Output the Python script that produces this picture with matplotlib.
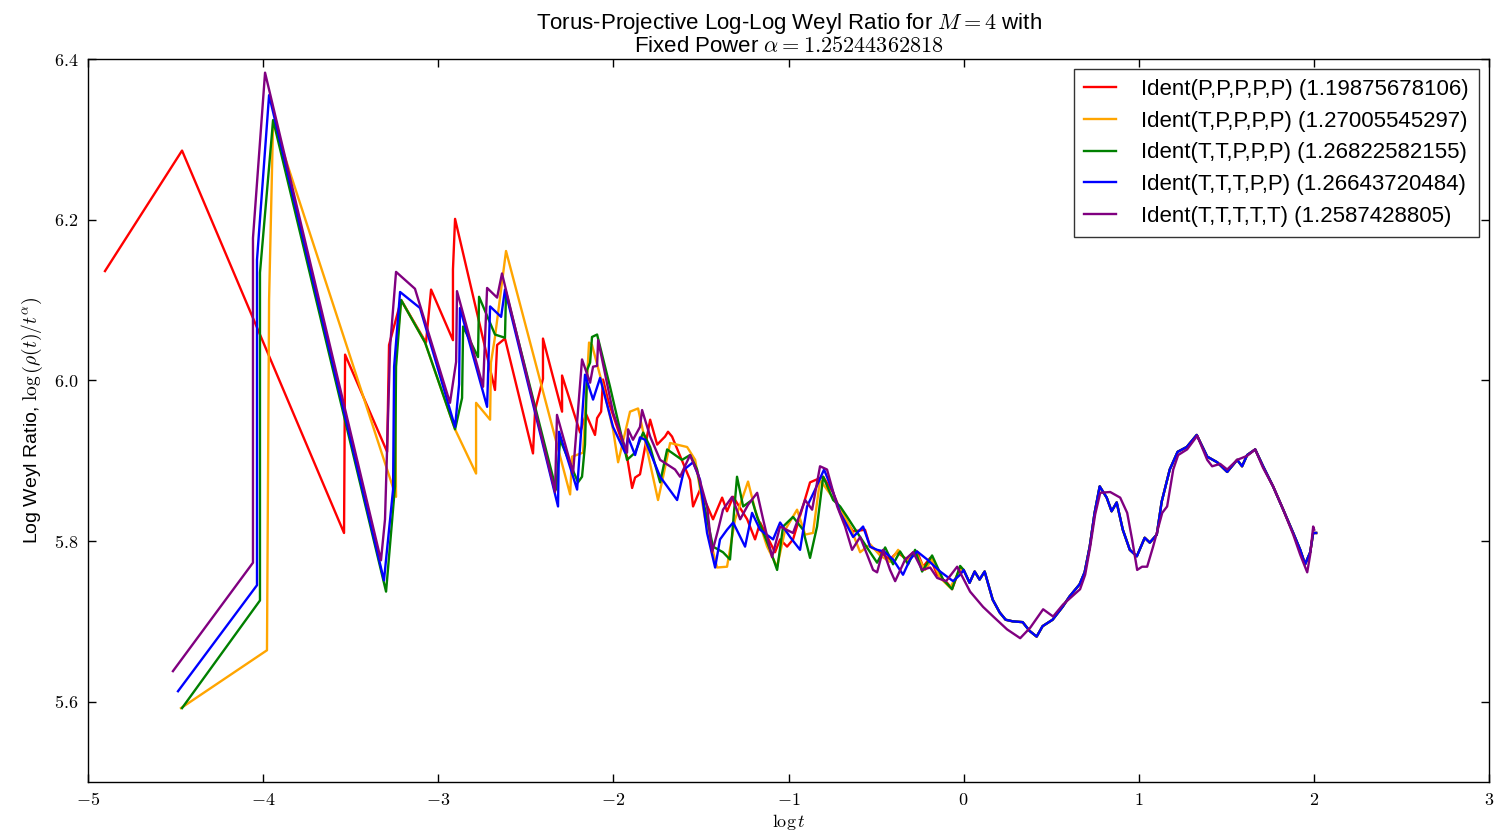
import matplotlib
matplotlib.use("Agg")
import matplotlib.pyplot as plt
from matplotlib.ticker import FuncFormatter, MultipleLocator

plt.rcParams['font.family'] = ['Liberation Sans', 'DejaVu Sans']
plt.rcParams['mathtext.fontset'] = 'cm'

# ---------------- data ----------------
labels = ["Ident(P,P,P,P,P) (1.19875678106)",
          "Ident(T,P,P,P,P) (1.27005545297)",
          "Ident(T,T,P,P,P) (1.26822582155)",
          "Ident(T,T,T,P,P) (1.26643720484)",
          "Ident(T,T,T,T,T) (1.2587428805)"]
colors = ["red", "orange", "green", "blue", "purple"]

# shared converged tail (x >= 0) of the first four series
tail_x = [0.000, 0.034, 0.063, 0.091, 0.120, 0.166, 0.206, 0.240, 0.280, 0.337,
          0.377, 0.417, 0.451, 0.508, 0.565, 0.605, 0.662, 0.691, 0.720, 0.748,
          0.777, 0.817, 0.845, 0.874, 0.909, 0.949, 0.989, 1.034, 1.063, 1.103,
          1.131, 1.177, 1.222, 1.274, 1.331, 1.391, 1.448, 1.505, 1.562, 1.590,
          1.619, 1.665, 1.710, 1.767, 1.825, 1.882, 1.922, 1.950, 1.979, 1.996, 2.013]
tail_y = [5.764, 5.748, 5.762, 5.752, 5.762, 5.727, 5.711, 5.702, 5.700, 5.699,
          5.688, 5.681, 5.694, 5.702, 5.718, 5.731, 5.746, 5.761, 5.793, 5.835,
          5.868, 5.854, 5.837, 5.848, 5.814, 5.789, 5.781, 5.804, 5.798, 5.808,
          5.849, 5.889, 5.911, 5.917, 5.932, 5.905, 5.898, 5.886, 5.901, 5.893,
          5.907, 5.914, 5.893, 5.868, 5.839, 5.810, 5.789, 5.771, 5.786, 5.810, 5.810]

red_x = [-4.903, -4.463, -3.538, -3.532, -3.292, -3.281, -3.212, -3.070, -3.041, -2.916, -2.916,
         -2.904, -2.676, -2.664, -2.619, -2.459, -2.447, -2.402, -2.402, -2.293, -2.293,
         -2.190, -2.156, -2.105, -2.093, -2.070, -2.059, -2.030, -1.922, -1.893, -1.876,
         -1.848, -1.790, -1.750, -1.705, -1.688, -1.665, -1.562, -1.545, -1.505, -1.431,
         -1.379, -1.351, -1.316, -1.236, -1.191, -1.162, -1.077, -1.048, -1.008, -0.974,
         -0.877, -0.802, -0.745, -0.688, -0.631, -0.563, -0.534, -0.477, -0.420, -0.380,
         -0.323, -0.288, -0.266, -0.231, -0.191, -0.151, -0.094, -0.066, -0.020]
red_y = [6.136, 6.286, 5.810, 6.032, 5.911, 6.044, 6.100, 6.047, 6.113, 6.050, 6.138,
         6.201, 5.988, 6.044, 6.052, 5.909, 5.963, 6.002, 6.052, 5.961, 6.006,
         5.935, 5.958, 5.932, 5.953, 5.961, 6.001, 5.975, 5.905, 5.866, 5.879,
         5.883, 5.951, 5.920, 5.930, 5.936, 5.930, 5.876, 5.843, 5.864, 5.827,
         5.854, 5.837, 5.855, 5.827, 5.802, 5.823, 5.786, 5.802, 5.793, 5.802,
         5.873, 5.880, 5.860, 5.830, 5.812, 5.814, 5.793, 5.786, 5.777, 5.786,
         5.777, 5.786, 5.787, 5.768, 5.779, 5.758, 5.748, 5.740, 5.767]

orange_x = [-4.469, -3.978, -3.966, -3.943, -3.241, -3.247, -3.212, -3.075, -2.904, -2.784,
            -2.784, -2.704, -2.699, -2.676, -2.613, -2.247, -2.236, -2.173, -2.139, -2.122,
            -2.059, -2.002, -1.973, -1.905, -1.859, -1.745, -1.716, -1.676, -1.579, -1.533,
            -1.476, -1.408, -1.351, -1.305, -1.231, -1.191, -1.122, -1.065, -1.019, -0.951,
            -0.905, -0.860, -0.820, -0.780, -0.717, -0.648, -0.591, -0.534, -0.477, -0.420,
            -0.374, -0.323, -0.277, -0.220, -0.180, -0.134, -0.077, -0.020]
orange_y = [5.592, 5.664, 6.100, 6.323, 5.855, 6.017, 6.100, 6.047, 5.939, 5.884,
            5.972, 5.951, 6.022, 6.054, 6.161, 5.858, 5.905, 5.910, 6.047, 6.044,
            5.992, 5.939, 5.898, 5.961, 5.965, 5.851, 5.880, 5.922, 5.917, 5.901,
            5.827, 5.767, 5.768, 5.827, 5.874, 5.839, 5.793, 5.768, 5.814, 5.839,
            5.808, 5.810, 5.876, 5.864, 5.845, 5.818, 5.786, 5.796, 5.782, 5.774,
            5.789, 5.774, 5.787, 5.764, 5.777, 5.754, 5.742, 5.764]

green_x = [-4.463, -4.018, -4.018, -3.943, -3.298, -3.247, -3.241, -3.212, -3.075, -2.904,
           -2.864, -2.858, -2.773, -2.767, -2.676, -2.619, -2.613, -2.327, -2.304, -2.202,
           -2.179, -2.162, -2.150, -2.133, -2.122, -2.093, -2.019, -1.922, -1.876, -1.830,
           -1.790, -1.733, -1.693, -1.608, -1.562, -1.522, -1.488, -1.431, -1.374, -1.334,
           -1.294, -1.259, -1.208, -1.179, -1.105, -1.065, -1.031, -0.974, -0.917, -0.877,
           -0.837, -0.802, -0.745, -0.705, -0.665, -0.591, -0.534, -0.494, -0.448, -0.403,
           -0.363, -0.317, -0.277, -0.237, -0.180, -0.117, -0.066, -0.020]
green_y = [5.592, 5.726, 6.134, 6.324, 5.737, 5.868, 6.017, 6.100, 6.047, 5.939,
           5.978, 6.067, 6.029, 6.104, 6.057, 6.053, 6.110, 5.864, 5.926, 5.873,
           5.880, 5.920, 6.013, 6.022, 6.054, 6.057, 5.992, 5.901, 5.910, 5.935,
           5.917, 5.873, 5.914, 5.901, 5.907, 5.889, 5.851, 5.793, 5.786, 5.777,
           5.880, 5.843, 5.851, 5.830, 5.789, 5.764, 5.818, 5.830, 5.814, 5.779,
           5.818, 5.880, 5.851, 5.843, 5.830, 5.805, 5.786, 5.773, 5.792, 5.771,
           5.787, 5.771, 5.789, 5.762, 5.782, 5.752, 5.740, 5.769]

blue_x = [-4.486, -4.035, -4.035, -3.966, -3.310, -3.258, -3.252, -3.218, -3.104, -2.904,
          -2.881, -2.876, -2.721, -2.704, -2.641, -2.619, -2.316, -2.310, -2.207, -2.162,
          -2.116, -2.076, -2.002, -1.933, -1.916, -1.876, -1.848, -1.819, -1.733, -1.636,
          -1.596, -1.545, -1.505, -1.465, -1.419, -1.391, -1.351, -1.316, -1.248, -1.208,
          -1.162, -1.088, -1.048, -0.991, -0.934, -0.894, -0.848, -0.797, -0.751, -0.705,
          -0.631, -0.574, -0.534, -0.494, -0.454, -0.403, -0.346, -0.306, -0.266, -0.208,
          -0.134, -0.060, -0.020]
blue_y = [5.613, 5.745, 6.150, 6.355, 5.751, 5.864, 6.017, 6.110, 6.090, 5.942,
          5.995, 6.090, 5.967, 6.092, 6.079, 6.113, 5.843, 5.936, 5.864, 6.007,
          5.976, 6.003, 5.942, 5.910, 5.929, 5.907, 5.929, 5.926, 5.880, 5.851,
          5.889, 5.898, 5.876, 5.810, 5.767, 5.802, 5.814, 5.823, 5.793, 5.835,
          5.814, 5.802, 5.823, 5.805, 5.789, 5.843, 5.864, 5.889, 5.864, 5.835,
          5.805, 5.818, 5.793, 5.789, 5.787, 5.777, 5.758, 5.777, 5.787, 5.777,
          5.762, 5.750, 5.758]

purple_x = [-4.515, -4.058, -4.058, -3.989, -3.327, -3.304, -3.275, -3.241, -3.133, -2.933,
            -2.898, -2.893, -2.744, -2.721, -2.664, -2.636, -2.333, -2.322, -2.230, -2.179,
            -2.133, -2.116, -2.093, -2.087, -2.002, -1.922, -1.916, -1.888, -1.848, -1.836,
            -1.790, -1.733, -1.648, -1.619, -1.562, -1.516, -1.465, -1.436, -1.402, -1.374,
            -1.322, -1.276, -1.231, -1.179, -1.145, -1.094, -1.048, -0.974, -0.905, -0.865,
            -0.820, -0.780, -0.722, -0.677, -0.637, -0.591, -0.551, -0.517, -0.494, -0.460,
            -0.420, -0.391, -0.334, -0.288, -0.237, -0.191, -0.151, -0.100, -0.037,
            0.037, 0.111, 0.169, 0.248, 0.323, 0.380, 0.454, 0.511, 0.568, 0.665,
            0.694, 0.722, 0.751, 0.780, 0.837, 0.894, 0.934, 0.962, 0.991, 1.019,
            1.048, 1.082, 1.134, 1.162, 1.197, 1.225, 1.276, 1.334, 1.391, 1.419,
            1.465, 1.505, 1.562, 1.619, 1.665, 1.710, 1.767, 1.825, 1.882, 1.922,
            1.962, 1.979, 1.996, 2.002]
purple_y = [5.638, 5.773, 6.177, 6.383, 5.776, 5.827, 6.042, 6.135, 6.114, 5.972,
            6.023, 6.111, 5.992, 6.115, 6.103, 6.133, 5.861, 5.957, 5.885, 6.026,
            5.997, 6.017, 6.018, 6.050, 5.960, 5.910, 5.939, 5.926, 5.942, 5.963,
            5.930, 5.901, 5.889, 5.880, 5.907, 5.883, 5.843, 5.786, 5.814, 5.839,
            5.855, 5.827, 5.845, 5.860, 5.827, 5.780, 5.818, 5.810, 5.851, 5.839,
            5.893, 5.889, 5.843, 5.818, 5.789, 5.805, 5.783, 5.764, 5.761, 5.789,
            5.764, 5.750, 5.777, 5.786, 5.764, 5.767, 5.754, 5.750, 5.768,
            5.737, 5.718, 5.706, 5.690, 5.679, 5.692, 5.715, 5.706, 5.721, 5.740,
            5.758, 5.792, 5.833, 5.860, 5.861, 5.854, 5.835, 5.802, 5.764, 5.768,
            5.768, 5.793, 5.835, 5.843, 5.889, 5.907, 5.914, 5.931, 5.901, 5.893,
            5.896, 5.889, 5.901, 5.906, 5.914, 5.891, 5.868, 5.839, 5.808, 5.783,
            5.761, 5.783, 5.818, 5.814]

series = [(red_x + tail_x, red_y + tail_y),
          (orange_x + tail_x, orange_y + tail_y),
          (green_x + tail_x, green_y + tail_y),
          (blue_x + tail_x, blue_y + tail_y),
          (purple_x, purple_y)]

# ---------------- figure ----------------
fig = plt.figure(figsize=(14.97, 8.31), dpi=100)
ax = fig.add_axes([88 / 1497, 1 - 782 / 831, (1489 - 88) / 1497, (782 - 59) / 831])

for (xs, ys), c, lab in zip(series, colors, labels):
    ax.plot(xs, ys, color=c, lw=1.7, label=lab)

ax.set_xlim(-5, 3)
ax.set_ylim(5.5, 6.4)
ax.xaxis.set_major_locator(MultipleLocator(1))
ax.yaxis.set_major_locator(MultipleLocator(0.2))
ax.xaxis.set_major_formatter(FuncFormatter(lambda v, p: r'$%d$' % round(v)))
ax.yaxis.set_major_formatter(FuncFormatter(lambda v, p: r'$%.1f$' % v))
ax.tick_params(direction='in', top=True, right=True, length=6, width=1,
               labelsize=13, pad=7)
for s in ax.spines.values():
    s.set_linewidth(1.0)

ax.set_xlabel(r'$\log t$', fontsize=13, labelpad=2)
ax.set_ylabel(r'Log Weyl Ratio, $\log\left(\rho(t)/t^{\alpha}\right)$', fontsize=14, labelpad=6)
ax.set_title('Torus-Projective Log-Log Weyl Ratio for $M=4$ with\nFixed Power $\\alpha=1.25244362818$',
             fontsize=16, linespacing=1.0, pad=5)

leg = ax.legend(loc='upper right', fontsize=16, frameon=True, fancybox=False,
                handlelength=1.45, handletextpad=1.15, labelspacing=0.48,
                borderpad=0.45, borderaxespad=0.45)
leg.get_frame().set_edgecolor('black')
leg.get_frame().set_linewidth(1.0)

fig.savefig('out.png', dpi=100)
